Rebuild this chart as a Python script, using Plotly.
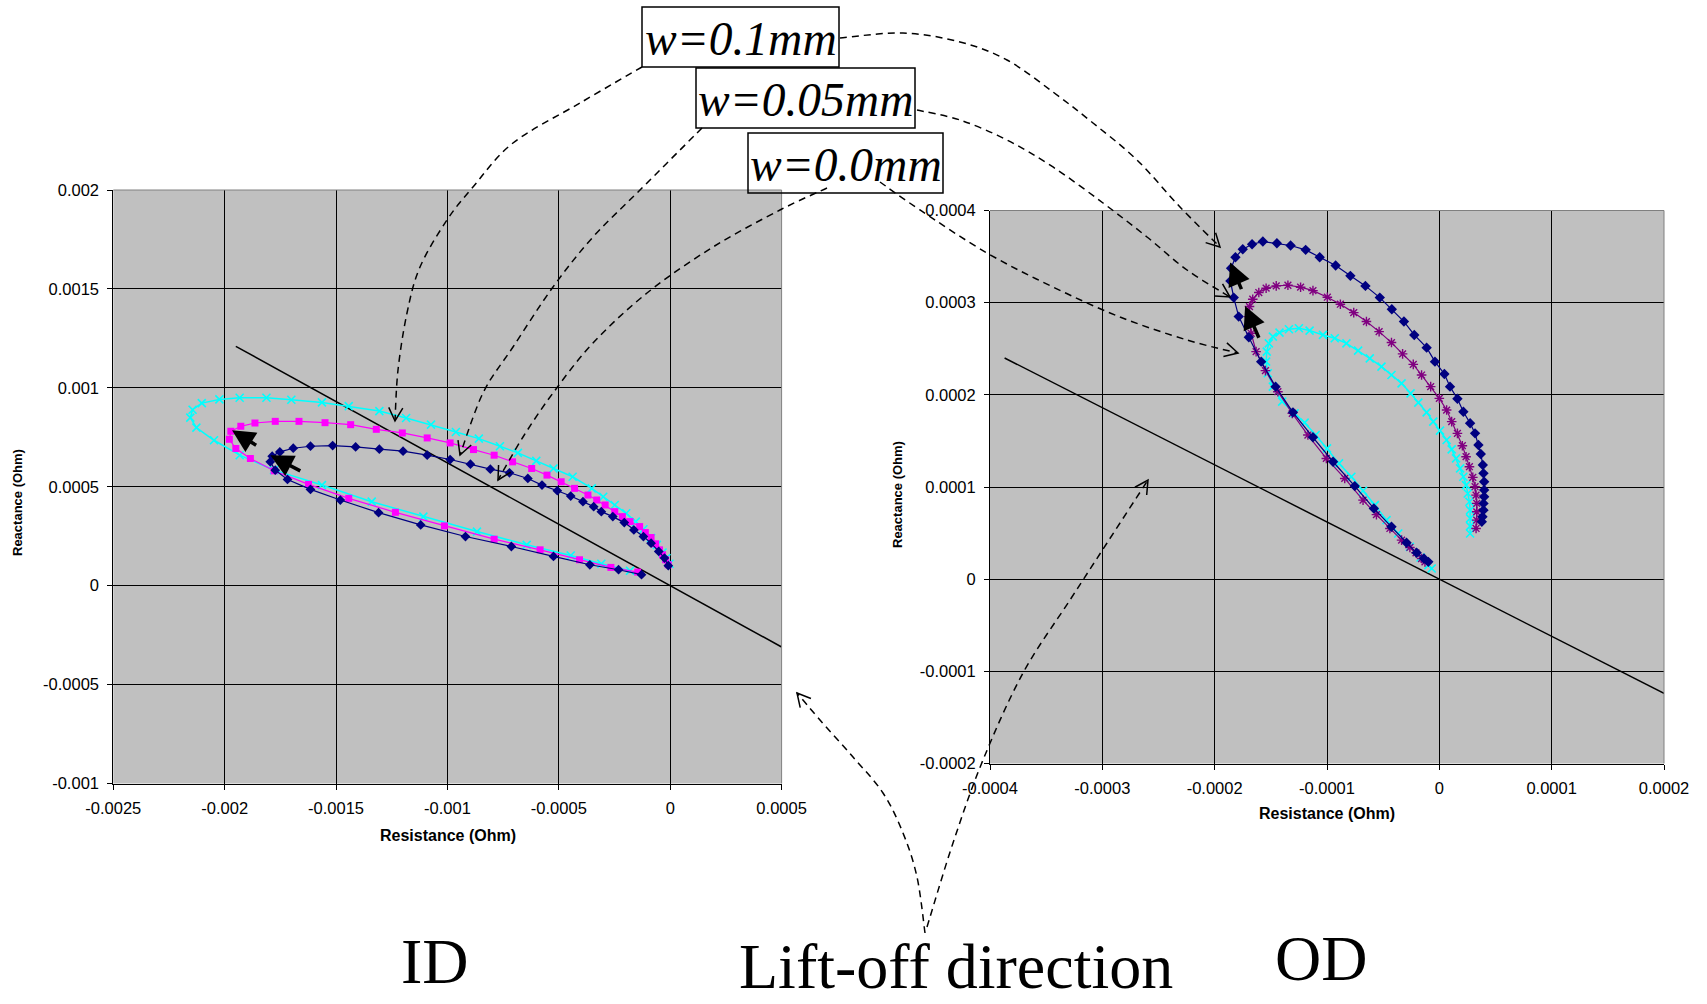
import plotly.graph_objects as go
import math

W, H = 1707, 1004

# ---------------- data (Ohm) ----------------
id_x_ticks = [-0.0025, -0.002, -0.0015, -0.001, -0.0005, 0, 0.0005]
id_x_ticktext = ["-0.0025", "-0.002", "-0.0015", "-0.001", "-0.0005", "0", "0.0005"]
id_y_ticks = [-0.001, -0.0005, 0, 0.0005, 0.001, 0.0015, 0.002]
id_y_ticktext = ["-0.001", "-0.0005", "0", "0.0005", "0.001", "0.0015", "0.002"]
od_x_ticks = [-0.0004, -0.0003, -0.0002, -0.0001, 0, 0.0001, 0.0002]
od_x_ticktext = ["-0.0004", "-0.0003", "-0.0002", "-0.0001", "0", "0.0001", "0.0002"]
od_y_ticks = [-0.0002, -0.0001, 0, 0.0001, 0.0002, 0.0003, 0.0004]
od_y_ticktext = ["-0.0002", "-0.0001", "0", "0.0001", "0.0002", "0.0003", "0.0004"]

# ID, w = 0.0 mm (navy diamonds)
id_w00_r = [-8.6e-6, -25.8e-6, -51.5e-6, -85.9e-6, -120.3e-6, -163.2e-6, -206.2e-6, -257.7e-6,
            -309.2e-6, -343.6e-6, -391.7e-6, -446.7e-6, -506.8e-6, -575.5e-6, -639.1e-6, -721.6e-6,
            -807.5e-6, -896.8e-6, -987.9e-6, -1090.9e-6, -1199.2e-6, -1305.7e-6, -1412.2e-6,
            -1515.3e-6, -1614.9e-6, -1692.2e-6, -1752.4e-6, -1786.7e-6, -1795.3e-6, -1773.0e-6,
            -1718.0e-6, -1614.9e-6, -1480.9e-6, -1309.1e-6, -1120.1e-6, -919.1e-6, -713.0e-6,
            -524.0e-6, -360.8e-6, -231.9e-6, -128.9e-6]
id_w00_x = [100.7e-6, 139.3e-6, 172.8e-6, 214.8e-6, 248.3e-6, 281.9e-6, 318.8e-6, 349.0e-6,
            374.2e-6, 399.4e-6, 424.5e-6, 453.1e-6, 479.9e-6, 508.4e-6, 542.0e-6, 570.5e-6,
            589.0e-6, 614.1e-6, 637.6e-6, 659.5e-6, 679.6e-6, 689.7e-6, 701.4e-6,
            708.1e-6, 704.8e-6, 694.7e-6, 676.2e-6, 654.4e-6, 625.9e-6, 583.9e-6,
            537.0e-6, 486.6e-6, 432.9e-6, 369.2e-6, 307.1e-6, 248.3e-6, 198.0e-6,
            147.7e-6, 105.7e-6, 80.5e-6, 55.4e-6]

# ID, w = 0.05 mm (magenta squares)
id_w05_r = [-8.6e-6, -20.6e-6, -34.4e-6, -48.1e-6, -65.3e-6, -85.9e-6, -111.7e-6, -137.4e-6,
            -180.4e-6, -214.8e-6, -249.1e-6, -292.1e-6, -329.9e-6, -369.4e-6, -429.5e-6, -489.6e-6,
            -553.2e-6, -621.9e-6, -707.8e-6, -790.3e-6, -883.1e-6, -987.9e-6, -1090.9e-6,
            -1202.6e-6, -1319.4e-6, -1434.5e-6, -1549.6e-6, -1666.5e-6, -1773.0e-6, -1864.1e-6,
            -1927.6e-6, -1972.3e-6, -1979.1e-6, -1949.9e-6, -1884.6e-6, -1778.1e-6, -1623.5e-6,
            -1443.1e-6, -1233.5e-6, -1013.6e-6, -790.3e-6, -584.1e-6, -407.2e-6, -266.3e-6,
            -146.0e-6]
id_w05_x = [105.7e-6, 130.9e-6, 156.1e-6, 181.2e-6, 211.4e-6, 243.3e-6, 268.5e-6, 298.7e-6,
            323.9e-6, 349.0e-6, 374.2e-6, 407.8e-6, 432.9e-6, 458.1e-6, 491.7e-6, 525.2e-6,
            558.8e-6, 592.3e-6, 625.9e-6, 659.5e-6, 688.0e-6, 721.5e-6, 746.7e-6,
            771.9e-6, 790.3e-6, 813.8e-6, 823.9e-6, 830.6e-6, 830.6e-6, 822.2e-6,
            805.4e-6, 780.3e-6, 740.0e-6, 693.0e-6, 642.7e-6, 580.6e-6, 511.8e-6,
            441.3e-6, 370.8e-6, 302.0e-6, 234.9e-6, 181.2e-6, 130.9e-6, 92.3e-6,
            68.8e-6]

# ID, w = 0.1 mm (cyan crosses)
id_w10_r = [-3.4e-6, -17.2e-6, -34.4e-6, -60.1e-6, -85.9e-6, -120.3e-6, -154.6e-6, -197.6e-6,
            -249.1e-6, -300.7e-6, -352.2e-6, -438.1e-6, -524.0e-6, -601.3e-6, -683.8e-6, -764.5e-6,
            -859.0e-6, -962.0e-6, -1073.8e-6, -1185.4e-6, -1305.7e-6, -1443.1e-6, -1563.4e-6,
            -1700.8e-6, -1812.5e-6, -1932.7e-6, -2023.8e-6, -2102.8e-6, -2144.1e-6, -2154.4e-6,
            -2126.9e-6, -2047.9e-6, -1932.7e-6, -1778.1e-6, -1563.4e-6, -1340.0e-6, -1108.1e-6,
            -867.6e-6, -644.3e-6, -446.7e-6, -309.2e-6, -180.4e-6]
id_w10_x = [110.7e-6, 139.3e-6, 167.8e-6, 206.4e-6, 240.0e-6, 285.3e-6, 323.9e-6, 365.8e-6,
            407.8e-6, 449.7e-6, 491.7e-6, 550.4e-6, 592.3e-6, 630.9e-6, 671.2e-6, 704.8e-6,
            743.4e-6, 776.9e-6, 813.8e-6, 847.4e-6, 882.6e-6, 907.8e-6, 926.3e-6,
            939.7e-6, 949.7e-6, 949.7e-6, 941.4e-6, 922.9e-6, 889.3e-6, 849.1e-6,
            798.7e-6, 735.0e-6, 659.5e-6, 583.9e-6, 508.4e-6, 424.5e-6, 349.0e-6,
            273.5e-6, 206.4e-6, 152.7e-6, 110.7e-6, 75.5e-6]

# OD, w = 0.1 mm (navy diamonds)
od_w10_r = [-9.8e-6, -13.7e-6, -20.2e-6, -29.2e-6, -42.6e-6, -58.3e-6, -75.3e-6, -94.6e-6,
            -112.5e-6, -130.3e-6, -145.8e-6, -158.6e-6, -169.6e-6, -178.6e-6, -183.0e-6, -186.0e-6,
            -185.4e-6, -181.5e-6, -175.0e-6, -166.7e-6, -157.1e-6, -144.6e-6, -132.4e-6, -119.0e-6,
            -106.5e-6, -92.3e-6, -79.2e-6, -65.8e-6, -53.0e-6, -42.3e-6, -31.5e-6, -22.3e-6,
            -11.3e-6, -3.9e-6, 4.5e-6, 9.5e-6, 16.1e-6, 21.4e-6, 27.4e-6, 31.8e-6, 34.8e-6,
            36.9e-6, 38.7e-6, 39.3e-6, 39.9e-6, 39.9e-6, 39.9e-6, 39.3e-6, 39.3e-6, 38.4e-6, 37.8e-6]
od_w10_x = [18.8e-6, 22.4e-6, 28.6e-6, 39.5e-6, 56.8e-6, 76.7e-6, 101.0e-6, 127.4e-6,
            153.9e-6, 181.0e-6, 208.9e-6, 236.0e-6, 262.5e-6, 284.9e-6, 305.5e-6, 323.6e-6,
            337.4e-6, 349.3e-6, 358.0e-6, 363.4e-6, 366.3e-6, 364.5e-6, 362.0e-6, 357.3e-6,
            349.3e-6, 340.3e-6, 329.1e-6, 318.2e-6, 305.5e-6, 292.9e-6, 279.5e-6, 265.0e-6,
            251.2e-6, 236.0e-6, 222.6e-6, 208.9e-6, 195.8e-6, 181.7e-6, 169.1e-6, 158.2e-6, 145.5e-6,
            135.8e-6, 123.8e-6, 114.8e-6, 105.7e-6, 96.7e-6, 89.4e-6, 82.2e-6, 74.9e-6, 67.7e-6, 62.3e-6]

# OD, w = 0.05 mm (purple asterisks)
od_w05_r = [-12.8e-6, -15.8e-6, -20.8e-6, -26.2e-6, -33.6e-6, -44.0e-6, -56.0e-6, -67.9e-6,
            -84.2e-6, -100.6e-6, -117.0e-6, -130.9e-6, -143.7e-6, -154.8e-6, -163.1e-6, -167.5e-6,
            -169.6e-6, -169.0e-6, -166.1e-6, -160.7e-6, -154.2e-6, -145.2e-6, -134.8e-6, -123.5e-6,
            -112.5e-6, -99.7e-6, -88.1e-6, -76.2e-6, -64.9e-6, -53.6e-6, -42.6e-6, -32.7e-6,
            -23.2e-6, -15.8e-6, -7.7e-6, 0.0, 6.5e-6, 11.0e-6, 16.1e-6, 20.5e-6, 23.8e-6,
            26.8e-6, 29.8e-6, 31.8e-6, 32.7e-6, 33.3e-6, 33.3e-6, 33.3e-6, 32.7e-6]
od_w05_x = [18.8e-6, 22.4e-6, 28.6e-6, 34.4e-6, 42.4e-6, 55.0e-6, 70.0e-6, 85.8e-6,
            109.3e-6, 131.0e-6, 156.4e-6, 179.9e-6, 203.4e-6, 226.3e-6, 246.9e-6, 266.8e-6,
            284.9e-6, 295.8e-6, 303.7e-6, 311.0e-6, 315.7e-6, 318.2e-6, 318.9e-6, 316.8e-6,
            313.1e-6, 305.9e-6, 298.3e-6, 289.2e-6, 279.5e-6, 268.6e-6, 256.7e-6, 244.4e-6,
            233.1e-6, 221.5e-6, 208.9e-6, 196.2e-6, 183.5e-6, 170.9e-6, 158.2e-6, 144.8e-6, 132.9e-6,
            122.0e-6, 110.4e-6, 100.3e-6, 91.2e-6, 82.2e-6, 73.1e-6, 64.1e-6, 55.0e-6]

# OD, w = 0.0 mm (cyan crosses)
od_w00_r = [-6.8e-6, -9.8e-6, -16.7e-6, -26.2e-6, -36.6e-6, -47.0e-6, -57.4e-6, -67.9e-6,
            -78.3e-6, -89.3e-6, -100.0e-6, -110.1e-6, -119.9e-6, -128.9e-6, -139.9e-6, -148.2e-6,
            -152.7e-6, -154.2e-6, -153.6e-6, -151.8e-6, -148.2e-6, -142.3e-6, -133.9e-6, -125.0e-6,
            -115.5e-6, -103.6e-6, -93.1e-6, -82.7e-6, -72.3e-6, -61.9e-6, -51.5e-6, -42.6e-6,
            -33.6e-6, -25.6e-6, -18.7e-6, -11.3e-6, -5.4e-6, 0.6e-6, 6.5e-6, 11.0e-6, 14.9e-6,
            18.5e-6, 21.4e-6, 23.8e-6, 25.3e-6, 26.8e-6, 27.4e-6, 27.4e-6, 27.4e-6, 27.4e-6]
od_w00_x = [11.6e-6, 15.2e-6, 23.5e-6, 35.1e-6, 49.6e-6, 64.1e-6, 80.4e-6, 95.9e-6,
            111.1e-6, 125.6e-6, 141.9e-6, 156.4e-6, 169.8e-6, 179.9e-6, 192.6e-6, 208.9e-6,
            223.4e-6, 236.0e-6, 246.9e-6, 255.9e-6, 263.2e-6, 267.5e-6, 271.1e-6, 272.2e-6,
            269.7e-6, 265.0e-6, 261.4e-6, 255.9e-6, 248.0e-6, 239.6e-6, 230.6e-6, 221.5e-6,
            212.5e-6, 201.6e-6, 191.5e-6, 181.0e-6, 170.9e-6, 161.1e-6, 151.0e-6, 140.8e-6, 131.0e-6,
            120.2e-6, 111.1e-6, 102.1e-6, 93.0e-6, 84.0e-6, 74.9e-6, 65.9e-6, 57.6e-6, 49.6e-6]

# lift-off direction lines
id_lift_r = [-0.00195, 0.0005]
id_lift_x = [0.00121, -0.00031]
od_lift_r = [-0.000387, 0.0002]
od_lift_x = [0.00024, -0.000124]

# bold direction arrows (tail -> head), data units
id_arrows = [((-0.001852, 0.000705), (-0.001967, 0.000785)),
             ((-0.001654, 0.000576), (-0.001795, 0.000659))]
od_arrows = [((-0.0001756, 0.0003131), (-0.0001863, 0.0003435)),
             ((-0.0001601, 0.0002603), (-0.0001729, 0.0002965))]

labels = ["w=0.1mm", "w=0.05mm", "w=0.0mm"]

# ---------------- helpers ----------------
def X(p):
    return p / W

def Y(p):
    return 1 - p / H

NAVY, MAG, CYAN, PURP = "#000080", "#FF00FF", "#00FFFF", "#800080"

fig = go.Figure()

# ID traces
fig.add_trace(go.Scatter(x=id_lift_r, y=id_lift_x, mode="lines", line=dict(color="black", width=1.5),
                         xaxis="x", yaxis="y", hoverinfo="skip"))
fig.add_trace(go.Scatter(x=id_w10_r, y=id_w10_x, mode="lines+markers", line=dict(color=CYAN, width=1.5),
                         marker=dict(symbol="x-thin", size=8, line=dict(color=CYAN, width=1.6)),
                         xaxis="x", yaxis="y", name=labels[0]))
fig.add_trace(go.Scatter(x=id_w05_r, y=id_w05_x, mode="lines+markers", line=dict(color=MAG, width=1.2),
                         marker=dict(symbol="square", size=7, color=MAG),
                         xaxis="x", yaxis="y", name=labels[1]))
fig.add_trace(go.Scatter(x=id_w00_r, y=id_w00_x, mode="lines+markers", line=dict(color=NAVY, width=1.2),
                         marker=dict(symbol="diamond", size=7.5, color=NAVY),
                         xaxis="x", yaxis="y", name=labels[2]))

# OD traces
fig.add_trace(go.Scatter(x=od_lift_r, y=od_lift_x, mode="lines", line=dict(color="black", width=1.5),
                         xaxis="x2", yaxis="y2", hoverinfo="skip"))
fig.add_trace(go.Scatter(x=od_w00_r, y=od_w00_x, mode="lines+markers", line=dict(color=CYAN, width=1.5),
                         marker=dict(symbol="x-thin", size=8, line=dict(color=CYAN, width=1.6)),
                         xaxis="x2", yaxis="y2", name=labels[2]))
fig.add_trace(go.Scatter(x=od_w05_r, y=od_w05_x, mode="lines+markers", line=dict(color=PURP, width=1.2),
                         marker=dict(symbol="asterisk-open", size=8, line=dict(color=PURP, width=1.4)),
                         xaxis="x2", yaxis="y2", name=labels[1]))
fig.add_trace(go.Scatter(x=od_w10_r, y=od_w10_x, mode="lines+markers", line=dict(color=NAVY, width=1.2),
                         marker=dict(symbol="diamond", size=8, color=NAVY),
                         xaxis="x2", yaxis="y2", name=labels[0]))

tickfont = dict(family="Liberation Sans, Arial", size=16.5, color="black")

def axis(dom, rng, tv, tt, anchor):
    return dict(domain=dom, range=rng, tickvals=tv, ticktext=tt, anchor=anchor,
                showgrid=True, gridcolor="black", gridwidth=1, zeroline=False,
                showline=True, linecolor="black", linewidth=1, mirror=False,
                ticks="outside", ticklen=5, tickwidth=1, tickcolor="black",
                tickfont=tickfont, ticklabelstandoff=5, automargin=False, fixedrange=True)

# plot-area pixel boxes
L_left, L_right, L_top, L_bot = 113.3, 781.6, 190.0, 783.5
R_left, R_right, R_top, R_bot = 990.0, 1664.0, 210.5, 763.5

layout = dict(
    width=W, height=H, margin=dict(l=0, r=0, t=0, b=0),
    paper_bgcolor="white", plot_bgcolor="#C0C0C0", showlegend=False,
    xaxis=axis([X(L_left), X(L_right)], [-0.0025, 0.0005], id_x_ticks, id_x_ticktext, "y"),
    yaxis=axis([Y(L_bot), Y(L_top)], [-0.001, 0.002], id_y_ticks, id_y_ticktext, "x"),
    xaxis2=axis([X(R_left), X(R_right)], [-0.0004, 0.0002], od_x_ticks, od_x_ticktext, "y2"),
    yaxis2=axis([Y(R_bot), Y(R_top)], [-0.0002, 0.0004], od_y_ticks, od_y_ticktext, "x2"),
)
fig.update_layout(**layout)

shapes = []
# gray top/right plot-area borders
for (l, r, t, b) in [(L_left, L_right, L_top, L_bot), (R_left, R_right, R_top, R_bot)]:
    shapes.append(dict(type="line", xref="paper", yref="paper", x0=X(l), x1=X(r), y0=Y(t), y1=Y(t),
                       line=dict(color="#808080", width=1), layer="above"))
    shapes.append(dict(type="line", xref="paper", yref="paper", x0=X(r), x1=X(r), y0=Y(t), y1=Y(b),
                       line=dict(color="#808080", width=1), layer="above"))

# label boxes (pixel)
boxes = [(642, 7, 839, 67), (696, 68, 915, 128), (748, 133, 943, 193)]
for (x0, y0, x1, y1) in boxes:
    shapes.append(dict(type="rect", xref="paper", yref="paper", x0=X(x0), x1=X(x1), y0=Y(y1), y1=Y(y0),
                       line=dict(color="black", width=1.5), fillcolor="rgba(0,0,0,0)", layer="above"))


def smooth(pts):
    s = f"M {X(pts[0][0]):.5f},{Y(pts[0][1]):.5f}"
    last_c2 = pts[0]
    n = len(pts)
    for i in range(n - 1):
        p0 = pts[i - 1] if i > 0 else pts[i]
        p1, p2 = pts[i], pts[i + 1]
        p3 = pts[i + 2] if i + 2 < n else pts[i + 1]
        c1 = (p1[0] + (p2[0] - p0[0]) / 6, p1[1] + (p2[1] - p0[1]) / 6)
        c2 = (p2[0] - (p3[0] - p1[0]) / 6, p2[1] - (p3[1] - p1[1]) / 6)
        s += (f" C {X(c1[0]):.5f},{Y(c1[1]):.5f} {X(c2[0]):.5f},{Y(c2[1]):.5f}"
              f" {X(p2[0]):.5f},{Y(p2[1]):.5f}")
        last_c2 = c2
    return s, last_c2


def vhead(tip, frm, length=15, ang=28):
    dx, dy = tip[0] - frm[0], tip[1] - frm[1]
    d = math.hypot(dx, dy) or 1
    ux, uy = -dx / d, -dy / d
    pts = []
    for a in (ang, -ang):
        r = math.radians(a)
        vx = ux * math.cos(r) - uy * math.sin(r)
        vy = ux * math.sin(r) + uy * math.cos(r)
        pts.append((tip[0] + vx * length, tip[1] + vy * length))
    return (f"M {X(pts[0][0]):.5f},{Y(pts[0][1]):.5f} L {X(tip[0]):.5f},{Y(tip[1]):.5f}"
            f" L {X(pts[1][0]):.5f},{Y(pts[1][1]):.5f}")

curves = [
    [(642, 67), (580, 103), (513, 143), (473, 187), (447, 220), (420, 267), (407, 313), (398, 370), (395, 421)],
    [(702, 128), (640, 190), (593, 237), (553, 287), (513, 347), (483, 393), (460, 455)],
    [(827, 188), (780, 210), (713, 247), (647, 293), (593, 343), (553, 393), (523, 437), (498, 480)],
    [(840, 38), (903, 33), (960, 42), (1007, 60), (1053, 92), (1093, 123), (1137, 160), (1180, 207), (1220, 247)],
    [(917, 110), (960, 120), (1007, 140), (1053, 167), (1103, 203), (1147, 237), (1187, 270), (1230, 297)],
    [(880, 182), (920, 210), (987, 253), (1053, 287), (1120, 317), (1187, 340), (1238, 353)],
    [(925, 933), (917, 877), (903, 833), (883, 793), (853, 757), (820, 720), (797, 693)],
    [(927, 927), (953, 843), (983, 760), (1023, 673), (1070, 600), (1107, 543), (1148, 480)],
]
for c in curves:
    path, c2 = smooth(c)
    shapes.append(dict(type="path", xref="paper", yref="paper", path=path,
                       line=dict(color="black", width=1.5, dash="7px,5px"), layer="above"))
    shapes.append(dict(type="path", xref="paper", yref="paper", path=vhead(c[-1], c2),
                       line=dict(color="black", width=1.5), layer="above"))

fig.update_layout(shapes=shapes)

ann = []
# box labels
for (x0, y0, x1, y1), t in zip(boxes, labels):
    ann.append(dict(x=X((x0 + x1) / 2), y=Y((y0 + y1) / 2 + 2), xref="paper", yref="paper",
                    text=f"<i>{t}</i>", showarrow=False, xanchor="center", yanchor="middle",
                    font=dict(family="Liberation Serif, Times New Roman", size=47.5, color="black")))

big = dict(family="Liberation Serif, Times New Roman", size=64, color="black")
ann.append(dict(x=X(435), y=Y(961), xref="paper", yref="paper", text="ID", showarrow=False,
                xanchor="center", yanchor="middle", font=big))
ann.append(dict(x=X(1321), y=Y(958), xref="paper", yref="paper", text="OD", showarrow=False,
                xanchor="center", yanchor="middle", font=big))
ann.append(dict(x=X(956), y=Y(966), xref="paper", yref="paper", text="Lift-off direction", showarrow=False,
                xanchor="center", yanchor="middle", font=big))

# axis titles
tfont = dict(family="Liberation Sans, Arial", size=16, color="black")
yfont = dict(family="Liberation Sans, Arial", size=13, color="black")
ann.append(dict(x=X(447.5), y=Y(835), xref="paper", yref="paper", text="<b>Resistance (Ohm)</b>",
                showarrow=False, xanchor="center", yanchor="middle", font=tfont))
ann.append(dict(x=X(1327), y=Y(813), xref="paper", yref="paper", text="<b>Resistance (Ohm)</b>",
                showarrow=False, xanchor="center", yanchor="middle", font=tfont))
ann.append(dict(x=X(17), y=Y(503), xref="paper", yref="paper", text="<b>Reactance (Ohm)</b>",
                showarrow=False, xanchor="center", yanchor="middle", textangle=-90, font=yfont))
ann.append(dict(x=X(897), y=Y(495), xref="paper", yref="paper", text="<b>Reactance (Ohm)</b>",
                showarrow=False, xanchor="center", yanchor="middle", textangle=-90, font=yfont))

# bold direction arrows
for (tail, head) in id_arrows:
    ann.append(dict(x=head[0], y=head[1], ax=tail[0], ay=tail[1], xref="x", yref="y", axref="x", ayref="y",
                    text="", showarrow=True, arrowhead=2, arrowsize=1.3, arrowwidth=3.5,
                    arrowcolor="black", standoff=0))
for (tail, head) in od_arrows:
    ann.append(dict(x=head[0], y=head[1], ax=tail[0], ay=tail[1], xref="x2", yref="y2", axref="x2", ayref="y2",
                    text="", showarrow=True, arrowhead=2, arrowsize=1.3, arrowwidth=3.5,
                    arrowcolor="black", standoff=0))

fig.update_layout(annotations=ann)

fig.write_html("out.html", config=dict(displayModeBar=False),
               post_script="document.body.style.margin='0';document.body.style.overflow='hidden';")
